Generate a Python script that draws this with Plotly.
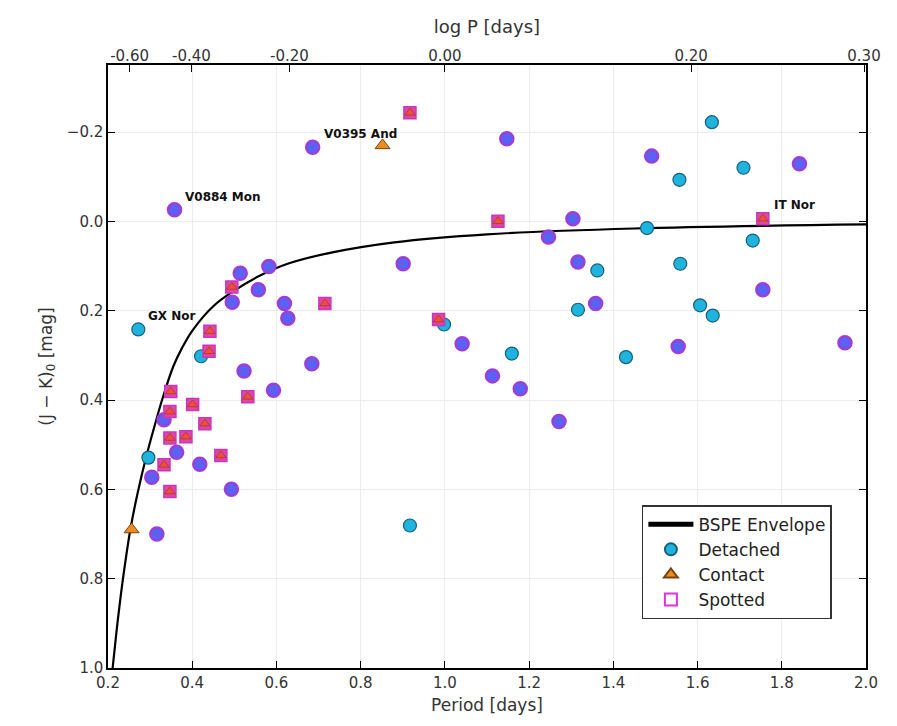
import plotly.graph_objects as go

# ---------------- data ----------------
# BSPE envelope
env_period = [0.211, 0.22, 0.23, 0.24, 0.254, 0.27, 0.29, 0.31, 0.33, 0.355, 0.375, 0.40,
              0.45, 0.50, 0.56, 0.63, 0.73, 0.88, 1.10, 1.45, 2.0]
env_jk = [1.00, 0.92, 0.84, 0.77, 0.685, 0.61, 0.53, 0.46, 0.395, 0.325, 0.285, 0.245,
          0.19, 0.155, 0.122, 0.094, 0.070, 0.047, 0.029, 0.016, 0.007]

# Detached (not spotted)
det_period = [0.272, 0.421, 0.296, 0.917, 0.998, 1.159, 1.43, 1.316, 1.362, 1.48,
              1.559, 1.557, 1.606, 1.636, 1.634, 1.709, 1.731]
det_jk = [0.242, 0.302, 0.529, 0.681, 0.231, 0.296, 0.304, 0.198, 0.11, 0.015,
          0.095, -0.093, 0.188, 0.211, -0.222, -0.12, 0.043]

# Contact (not spotted)
con_period = [0.256, 0.852]
con_jk = [0.69, -0.17]

# Detached + spotted
sdet_period = [0.514, 0.582, 0.557, 0.495, 0.619, 0.627, 0.523, 0.684, 0.593, 0.333,
               0.363, 0.418, 0.304, 0.493, 0.316, 0.686, 0.358, 0.901, 1.147, 1.491,
               1.842, 1.304, 1.246, 1.316, 1.755, 1.358, 1.554, 1.95, 1.041, 1.113,
               1.179, 1.271]
sdet_jk = [0.116, 0.101, 0.153, 0.181, 0.184, 0.217, 0.335, 0.319, 0.378, 0.444,
           0.517, 0.544, 0.573, 0.600, 0.700, -0.166, -0.026, 0.095, -0.185, -0.146,
           -0.129, -0.006, 0.035, 0.091, 0.153, 0.184, 0.28, 0.272, 0.274, 0.346,
           0.375, 0.448]

# Contact + spotted
scon_period = [0.917, 1.126, 1.755, 0.494, 0.715, 0.442, 0.44, 0.349, 0.532, 0.347,
               0.401, 0.43, 0.347, 0.385, 0.333, 0.468, 0.347, 0.985]
scon_jk = [-0.243, 0.0, -0.006, 0.147, 0.184, 0.246, 0.291, 0.381, 0.393, 0.426,
           0.41, 0.453, 0.485, 0.482, 0.545, 0.524, 0.605, 0.22]

# Labelled stars
label_names = ["GX Nor", "V0884 Mon", "V0395 And", "IT Nor"]
label_period = [0.29, 0.377, 0.708, 1.776]
label_jk = [0.212, -0.054, -0.196, -0.036]

# Axis ticks
period_ticks = [0.2, 0.4, 0.6, 0.8, 1.0, 1.2, 1.4, 1.6, 1.8, 2.0]
jk_ticks = [-0.2, 0.0, 0.2, 0.4, 0.6, 0.8, 1.0]
logp_ticks = [-0.70, -0.60, -0.40, -0.20, 0.00, 0.20, 0.30]
logp_text = [" ", "-0.60", "-0.40", "-0.20", "0.00", "0.20", "0.30"]

FONT = "DejaVu Sans"
CYAN = "#1fb4de"
ORANGE = "#ee8a1e"

fig = go.Figure()

fig.add_trace(go.Scatter(
    x=env_period, y=env_jk, mode="lines", line=dict(color="black", width=2.2, shape="spline", smoothing=1.0),
    name="BSPE Envelope", showlegend=True))

fig.add_trace(go.Scatter(
    x=det_period, y=det_jk, mode="markers", name="Detached",
    marker=dict(symbol="circle", size=13, color=CYAN, line=dict(color="#17607a", width=1.2)),
    showlegend=False))

fig.add_trace(go.Scatter(
    x=con_period, y=con_jk, mode="markers", name="Contact",
    marker=dict(symbol="triangle-up", size=13, color=ORANGE, line=dict(color="#7a4410", width=1)),
    showlegend=False))

fig.add_trace(go.Scatter(
    x=sdet_period, y=sdet_jk, mode="markers", name="Detached spotted",
    marker=dict(symbol="circle", size=13, color="#5a62f2", line=dict(color="#9a3fdc", width=2.5)),
    showlegend=False))

fig.add_trace(go.Scatter(
    x=scon_period, y=scon_jk, mode="markers", name="Contact spotted",
    marker=dict(symbol="square", size=12, color="#e0469e", line=dict(color="#c934c4", width=1.5)),
    showlegend=False))
fig.add_trace(go.Scatter(
    x=scon_period, y=scon_jk, mode="markers", name="Contact spotted tri",
    marker=dict(symbol="triangle-up", size=9, color="#f0503a", line=dict(color="#a33a2a", width=0.8)),
    showlegend=False))

# legend-only entries
fig.add_trace(go.Scatter(
    x=[None], y=[None], mode="markers", name="Detached",
    marker=dict(symbol="circle", size=13, color=CYAN, line=dict(color="#17607a", width=1.2))))
fig.add_trace(go.Scatter(
    x=[None], y=[None], mode="markers", name="Contact",
    marker=dict(symbol="triangle-up", size=13, color=ORANGE, line=dict(color="#7a4410", width=1))))
fig.add_trace(go.Scatter(
    x=[None], y=[None], mode="markers", name="Spotted",
    marker=dict(symbol="square-open", size=11, color="#e030e0", line=dict(width=2))))

# top log P axis (dummy trace to activate it)
fig.add_trace(go.Scatter(x=[None], y=[None], xaxis="x2", yaxis="y", showlegend=False))

for name, px, py in zip(label_names, label_period, label_jk):
    fig.add_annotation(x=px, y=py, text="<b>%s</b>" % name, showarrow=False,
                       xanchor="left", yanchor="middle",
                       font=dict(family=FONT, size=12, color="#111"))

axis_common = dict(
    showline=True, linecolor="black", linewidth=1.5,
    ticks="inside", ticklen=7, tickwidth=1.2, tickcolor="black",
    tickfont=dict(family=FONT, size=15, color="#333"),
    showgrid=True, gridcolor="#ececec", gridwidth=1, zeroline=False)

fig.update_layout(
    width=897, height=726,
    margin=dict(l=108, r=31, t=65, b=58),
    paper_bgcolor="white", plot_bgcolor="white",
    font=dict(family=FONT, size=15, color="#333"),
    xaxis=dict(range=[0.2, 2.0], tickvals=period_ticks, tickformat=".1f", mirror=True,
               title=dict(text="Period [days]", font=dict(family=FONT, size=17, color="#333"), standoff=8),
               **axis_common),
    xaxis2=dict(range=[0.2, 2.0], overlaying="x", side="top",
                tickvals=[10 ** v for v in logp_ticks], ticktext=logp_text,
                showline=False, ticks="inside", ticklen=7, tickwidth=1.2, tickcolor="black",
                tickfont=dict(family=FONT, size=15, color="#333"), showgrid=False, zeroline=False,
                title=dict(text="log P [days]", font=dict(family=FONT, size=18, color="#333"), standoff=8)),
    yaxis=dict(range=[1.0, -0.35], tickvals=jk_ticks, tickformat=".1f", mirror="ticks",
               title=dict(text="(J − K)<sub>0</sub> [mag]", font=dict(family=FONT, size=17, color="#333"), standoff=10),
               **axis_common),
    legend=dict(x=0.955, y=0.27, xanchor="right", yanchor="top",
                bgcolor="white", bordercolor="#333", borderwidth=1.5,
                font=dict(family=FONT, size=17, color="#222"),
                itemsizing="constant", itemwidth=45, tracegroupgap=4),
)

fig.write_html("out.html")
